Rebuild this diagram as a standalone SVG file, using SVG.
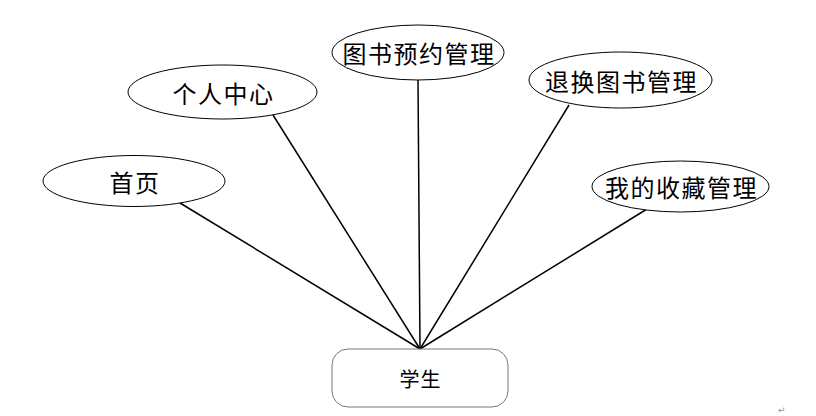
<svg xmlns="http://www.w3.org/2000/svg" width="816" height="416" viewBox="0 0 816 416">
<style>
.e{fill:#fff;stroke:#000;stroke-width:1}
.t{font-family:"Noto Sans CJK SC","Liberation Serif",serif;font-size:24px;letter-spacing:1.5px;fill:#000;text-anchor:middle;dominant-baseline:central}
.c line{stroke:#000;stroke-width:1.5}
</style>
<rect width="816" height="416" fill="#fff"/>
<g class="c" id="connectors">
<line x1="180" y1="203" x2="420" y2="349"/>
<line x1="273" y1="115" x2="420" y2="349"/>
<line x1="418" y1="80" x2="420" y2="349"/>
<line x1="569" y1="105" x2="420" y2="349"/>
<line x1="647" y1="209" x2="420" y2="349"/>
</g>
<g id="n-home"><ellipse class="e" cx="134" cy="181" rx="91" ry="25.5"/><text class="t" x="135" y="181">首页</text></g>
<g id="n-personal"><ellipse class="e" cx="222.5" cy="92" rx="94.5" ry="27"/><text class="t" x="223.5" y="92">个人中心</text></g>
<g id="n-reserve"><ellipse class="e" cx="418" cy="52.5" rx="86" ry="27.5"/><text class="t" x="419" y="52.5">图书预约管理</text></g>
<g id="n-exchange"><ellipse class="e" cx="620.5" cy="80" rx="91.5" ry="28"/><text class="t" x="621.5" y="80">退换图书管理</text></g>
<g id="n-favorite"><ellipse class="e" cx="680.5" cy="186.5" rx="88.5" ry="25.5"/><text class="t" x="681.5" y="186.5">我的收藏管理</text></g>
<g id="n-student"><rect x="332" y="349" width="176" height="58" rx="16" fill="#fff" stroke="#777" stroke-width="1"/><text class="t" x="420.5" y="378" style="font-size:20px;letter-spacing:1px">学生</text></g>
<text x="778" y="413" font-family="DejaVu Sans,sans-serif" font-size="9" fill="#999">↵</text>
</svg>
